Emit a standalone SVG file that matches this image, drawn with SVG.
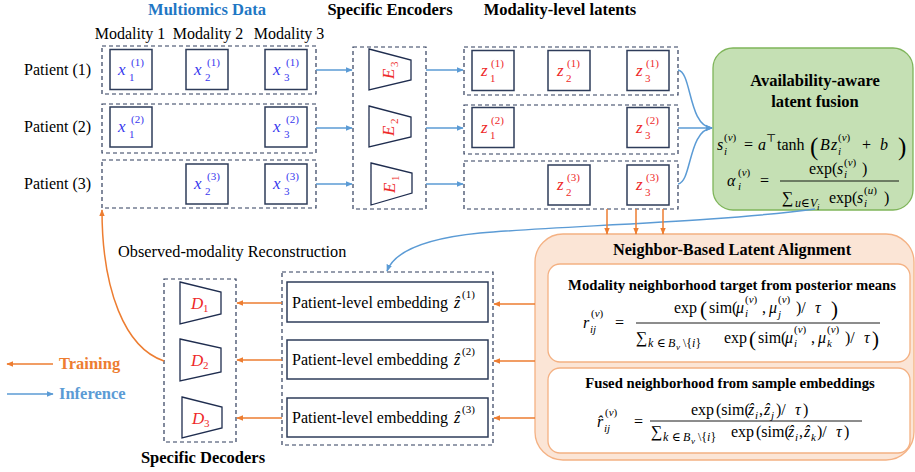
<svg xmlns="http://www.w3.org/2000/svg" width="915" height="472" viewBox="0 0 915 472" font-family="Liberation Serif, DejaVu Serif, serif">
<style>
text{fill:#000}
.t{font-size:16px}
.tb{font-size:16.5px;font-weight:bold}
.mi{font-style:italic;font-size:16px}
.mr{font-size:16px}
.sc{font-size:11px}
.sd{font-size:12px}
.ss{font-size:9px}
.i{font-style:italic}
.xb text{fill:#3838ee}
.zr text{fill:#ee2a2a}
.dash{fill:none;stroke:#2f3d5c;stroke-width:1.2;stroke-dasharray:4 3}
.sq{fill:#fff;stroke:#2e3c5a;stroke-width:1.5}
.trap{fill:#fff;stroke:#1f2d4f;stroke-width:1.3}
.bl{fill:none;stroke:#5b9bd5;stroke-width:1.5}
.or{fill:none;stroke:#ed7d31;stroke-width:1.5}
.bar{stroke:#000;stroke-width:0.9}
</style>
<defs>
<marker id="ab" viewBox="0 0 10 10" refX="9" refY="5" markerUnits="userSpaceOnUse" markerWidth="7" markerHeight="7" orient="auto"><path d="M0,1 L10,5 L0,9 z" fill="#5b9bd5"/></marker>
<marker id="ao" viewBox="0 0 10 10" refX="9" refY="5" markerUnits="userSpaceOnUse" markerWidth="7" markerHeight="7" orient="auto"><path d="M0,1 L10,5 L0,9 z" fill="#ed7d31"/></marker>
</defs>

<!-- headings -->
<text class="tb" x="207" y="15" text-anchor="middle" style="fill:#1f77c4">Multiomics Data</text>
<text class="tb" x="390" y="15" text-anchor="middle">Specific Encoders</text>
<text class="tb" x="560" y="15" text-anchor="middle">Modality-level latents</text>
<text class="t" x="130" y="39" text-anchor="middle">Modality 1</text>
<text class="t" x="208" y="39" text-anchor="middle">Modality 2</text>
<text class="t" x="289" y="39" text-anchor="middle">Modality 3</text>
<text class="t" x="24" y="75">Patient (1)</text>
<text class="t" x="24" y="132">Patient (2)</text>
<text class="t" x="24" y="189">Patient (3)</text>

<!-- data rows -->
<g id="data">
<rect class="dash" x="102" y="46" width="214" height="48"/>
<rect class="dash" x="102" y="104" width="214" height="49"/>
<rect class="dash" x="102" y="160" width="214" height="48"/>
</g>
<g id="x1_1" class="xb" transform="translate(131,69.5)"><rect class="sq" x="-21" y="-20" width="42" height="40"/><text class="mi" x="-13" y="5" style="font-size:17px">x</text><text class="sc" x="0" y="-4">(1)</text><text class="sc" x="-2" y="11">1</text></g>
<g id="x2_1" class="xb" transform="translate(207,69.5)"><rect class="sq" x="-21" y="-20" width="42" height="40"/><text class="mi" x="-13" y="5" style="font-size:17px">x</text><text class="sc" x="0" y="-4">(1)</text><text class="sc" x="-2" y="11">2</text></g>
<g id="x3_1" class="xb" transform="translate(286,69.5)"><rect class="sq" x="-21" y="-20" width="42" height="40"/><text class="mi" x="-13" y="5" style="font-size:17px">x</text><text class="sc" x="0" y="-4">(1)</text><text class="sc" x="-2" y="11">3</text></g>
<g id="x1_2" class="xb" transform="translate(131,127)"><rect class="sq" x="-21" y="-20" width="42" height="40"/><text class="mi" x="-13" y="5" style="font-size:17px">x</text><text class="sc" x="0" y="-4">(2)</text><text class="sc" x="-2" y="11">1</text></g>
<g id="x3_2" class="xb" transform="translate(286,127)"><rect class="sq" x="-21" y="-20" width="42" height="40"/><text class="mi" x="-13" y="5" style="font-size:17px">x</text><text class="sc" x="0" y="-4">(2)</text><text class="sc" x="-2" y="11">3</text></g>
<g id="x2_3" class="xb" transform="translate(207,184)"><rect class="sq" x="-21" y="-20" width="42" height="40"/><text class="mi" x="-13" y="5" style="font-size:17px">x</text><text class="sc" x="0" y="-4">(3)</text><text class="sc" x="-2" y="11">2</text></g>
<g id="x3_3" class="xb" transform="translate(286,184)"><rect class="sq" x="-21" y="-20" width="42" height="40"/><text class="mi" x="-13" y="5" style="font-size:17px">x</text><text class="sc" x="0" y="-4">(3)</text><text class="sc" x="-2" y="11">3</text></g>

<!-- encoders -->
<g id="encoders">
<rect class="dash" x="353" y="47" width="73" height="162"/>
<g id="E3"><path class="trap" d="M369,49 L411,60 L411,80 L369,90 Z"/><g class="zr" transform="translate(390,70) rotate(-90)"><text class="mi" x="-9" y="4" style="font-size:17px">E</text><text class="sc" x="3" y="8">3</text></g></g>
<g id="E2"><path class="trap" d="M369,106 L411,117 L411,137 L369,147 Z"/><g class="zr" transform="translate(390,127) rotate(-90)"><text class="mi" x="-9" y="4" style="font-size:17px">E</text><text class="sc" x="3" y="8">2</text></g></g>
<g id="E1"><path class="trap" d="M371,163 L412,173 L412,193 L371,205 Z"/><g class="zr" transform="translate(391,184) rotate(-90)"><text class="mi" x="-9" y="4" style="font-size:17px">E</text><text class="sc" x="3" y="8">1</text></g></g>
</g>

<!-- latents -->
<g id="latents">
<rect class="dash" x="464" y="47" width="214" height="48"/>
<rect class="dash" x="464" y="105" width="214" height="49"/>
<rect class="dash" x="464" y="161" width="214" height="48"/>
</g>
<g id="z1_1" class="zr" transform="translate(493,70.5)"><rect class="sq" x="-21" y="-20" width="42" height="40"/><text class="mi" x="-12" y="5" style="font-size:17px">z</text><text class="sc" x="-2" y="-4">(1)</text><text class="sc" x="-3" y="11">1</text></g>
<g id="z2_1" class="zr" transform="translate(569,70.5)"><rect class="sq" x="-21" y="-20" width="42" height="40"/><text class="mi" x="-12" y="5" style="font-size:17px">z</text><text class="sc" x="-2" y="-4">(1)</text><text class="sc" x="-3" y="11">2</text></g>
<g id="z3_1" class="zr" transform="translate(648,70.5)"><rect class="sq" x="-21" y="-20" width="42" height="40"/><text class="mi" x="-12" y="5" style="font-size:17px">z</text><text class="sc" x="-2" y="-4">(1)</text><text class="sc" x="-3" y="11">3</text></g>
<g id="z1_2" class="zr" transform="translate(493,127.5)"><rect class="sq" x="-21" y="-20" width="42" height="40"/><text class="mi" x="-12" y="5" style="font-size:17px">z</text><text class="sc" x="-2" y="-4">(2)</text><text class="sc" x="-3" y="11">1</text></g>
<g id="z3_2" class="zr" transform="translate(648,127.5)"><rect class="sq" x="-21" y="-20" width="42" height="40"/><text class="mi" x="-12" y="5" style="font-size:17px">z</text><text class="sc" x="-2" y="-4">(2)</text><text class="sc" x="-3" y="11">3</text></g>
<g id="z2_3" class="zr" transform="translate(569,185)"><rect class="sq" x="-21" y="-20" width="42" height="40"/><text class="mi" x="-12" y="5" style="font-size:17px">z</text><text class="sc" x="-2" y="-4">(3)</text><text class="sc" x="-3" y="11">2</text></g>
<g id="z3_3" class="zr" transform="translate(648,185)"><rect class="sq" x="-21" y="-20" width="42" height="40"/><text class="mi" x="-12" y="5" style="font-size:17px">z</text><text class="sc" x="-2" y="-4">(3)</text><text class="sc" x="-3" y="11">3</text></g>

<!-- fusion -->
<g id="fusion">
<rect x="713" y="48" width="200" height="162" rx="20" fill="#c5e0b4" stroke="#7fb55a" stroke-width="1.3"/>
<text class="tb" x="815" y="86" text-anchor="middle">Availability-aware</text>
<text class="tb" x="815" y="107" text-anchor="middle">latent fusion</text>
<text class="mi" x="717" y="150">s</text><text class="sc" x="724" y="141">(<tspan class="i">v</tspan>)</text><text class="sc i" x="724" y="155">i</text>
<text class="mr" x="744" y="150">=</text>
<text class="mi" x="758" y="150">a</text><text class="sc" x="766" y="142">⊤</text>
<text class="mr" x="777" y="150">tanh</text>
<text class="mr" x="810" y="155" style="font-size:25px">(</text>
<text class="mi" x="820" y="150">B</text><text class="mi" x="831" y="150">z</text><text class="sc" x="838" y="141">(<tspan class="i">v</tspan>)</text><text class="sc i" x="838" y="155">i</text>
<text class="mr" x="862" y="150">+</text><text class="mi" x="880" y="150">b</text>
<text class="mr" x="898" y="155" style="font-size:25px">)</text>
<text class="mi" x="727" y="186">α</text><text class="sc" x="738" y="176">(<tspan class="i">v</tspan>)</text><text class="sc i" x="738" y="190">i</text>
<text class="mr" x="760" y="186">=</text>
<line class="bar" x1="780" y1="181" x2="899" y2="181"/>
<text class="mr" x="809" y="174">exp(</text><text class="mi" x="837" y="174">s</text><text class="sc" x="844" y="166">(<tspan class="i">v</tspan>)</text><text class="sc i" x="844" y="178">i</text><text class="mr" x="862" y="174">)</text>
<text class="mr" x="782" y="203">∑</text><text class="sd" x="795" y="207"><tspan class="i">u</tspan>∈<tspan class="i">V</tspan></text><text class="ss i" x="817" y="210">i</text>
<text class="mr" x="829" y="203">exp(</text><text class="mi" x="857" y="203">s</text><text class="sc" x="864" y="194">(<tspan class="i">u</tspan>)</text><text class="sc i" x="864" y="207">i</text><text class="mr" x="884" y="203">)</text>
</g>

<!-- alignment -->
<g id="alignment">
<rect x="535" y="234" width="379" height="226" rx="28" fill="#fbe5d6" stroke="#f4b183" stroke-width="1.3"/>
<text class="tb" x="732" y="255" text-anchor="middle" style="font-size:16.3px">Neighbor-Based Latent Alignment</text>
<rect x="548" y="264" width="362" height="98" rx="12" fill="#fff" stroke="#f4b183" stroke-width="1.3"/>
<text class="tb" x="732" y="290" text-anchor="middle" style="font-size:14.7px">Modality neighborhood target from posterior means</text>
<text class="mi" x="583" y="328">r</text><text class="sc" x="591" y="317">(<tspan class="i">v</tspan>)</text><text class="sc i" x="590" y="333">ij</text>
<text class="mr" x="615" y="328">=</text>
<line class="bar" x1="636" y1="323" x2="880" y2="323"/>
<text class="mr" x="674" y="313">exp</text><text class="mr" x="700" y="316" style="font-size:21px">(</text><text class="mr" x="709" y="313">sim(</text>
<text class="mi" x="736" y="313">μ</text><text class="sc" x="745" y="303">(<tspan class="i">v</tspan>)</text><text class="sc i" x="745" y="317">i</text><text class="mr" x="762" y="313">,</text>
<text class="mi" x="769" y="313">μ</text><text class="sc" x="778" y="303">(<tspan class="i">v</tspan>)</text><text class="sc i" x="778" y="318">j</text>
<text class="mr" x="796" y="313">)/</text><text class="mi" x="815" y="313">τ</text><text class="mr" x="831" y="316" style="font-size:21px">)</text>
<text class="mr" x="636" y="343">∑</text><text class="sd i" x="648" y="347">k</text><text class="sd" x="657" y="347">∈</text><text class="sd i" x="668" y="347">B</text><text class="ss i" x="676" y="350">v</text><text class="sd" x="683" y="347">\{<tspan class="i">i</tspan>}</text>
<text class="mr" x="724" y="343">exp</text><text class="mr" x="749" y="346" style="font-size:21px">(</text><text class="mr" x="758" y="343">sim(</text>
<text class="mi" x="785" y="343">μ</text><text class="sc" x="794" y="333">(<tspan class="i">v</tspan>)</text><text class="sc i" x="794" y="347">i</text><text class="mr" x="811" y="343">,</text>
<text class="mi" x="818" y="343">μ</text><text class="sc" x="827" y="333">(<tspan class="i">v</tspan>)</text><text class="sc i" x="827" y="347">k</text>
<text class="mr" x="845" y="343">)/</text><text class="mi" x="864" y="343">τ</text><text class="mr" x="872" y="346" style="font-size:21px">)</text>
<rect x="548" y="368" width="362" height="85" rx="12" fill="#fff" stroke="#f4b183" stroke-width="1.3"/>
<text class="tb" x="730" y="388" text-anchor="middle" style="font-size:14.7px">Fused neighborhood from sample embeddings</text>
<text class="mi" x="597" y="427">r̂</text><text class="sc" x="605" y="416">(<tspan class="i">v</tspan>)</text><text class="sc i" x="604" y="432">ij</text>
<text class="mr" x="634" y="427">=</text>
<line class="bar" x1="650" y1="421" x2="862" y2="421"/>
<text class="mr" x="691" y="415">exp</text><text class="mr" x="716" y="415">(sim(</text>
<text class="mi" x="748" y="415">ẑ</text><text class="sc i" x="755" y="419">i</text><text class="mr" x="759" y="415">,</text>
<text class="mi" x="764" y="415">ẑ</text><text class="sc i" x="771" y="419">j</text><text class="mr" x="776" y="415">)/</text><text class="mi" x="795" y="415">τ</text><text class="mr" x="803" y="415">)</text>
<text class="mr" x="651" y="437">∑</text><text class="sd i" x="663" y="441">k</text><text class="sd" x="672" y="441">∈</text><text class="sd i" x="683" y="441">B</text><text class="ss i" x="691" y="444">v</text><text class="sd" x="698" y="441">\{<tspan class="i">i</tspan>}</text>
<text class="mr" x="731" y="437">exp</text><text class="mr" x="756" y="437">(sim(</text>
<text class="mi" x="788" y="437">ẑ</text><text class="sc i" x="795" y="441">i</text><text class="mr" x="799" y="437">,</text>
<text class="mi" x="804" y="437">ẑ</text><text class="sc i" x="811" y="441">k</text><text class="mr" x="817" y="437">)/</text><text class="mi" x="836" y="437">τ</text><text class="mr" x="844" y="437">)</text>
</g>

<!-- embeddings -->
<g id="embeddings">
<rect class="dash" x="282" y="272" width="211" height="173"/>
</g>
<g id="emb1"><rect class="sq" x="287" y="282" width="201" height="40"/><text class="t" x="292" y="308">Patient-level embedding</text><text class="mi" x="454" y="308">ẑ</text><text class="sc" x="462" y="298">(1)</text></g>
<g id="emb2"><rect class="sq" x="287" y="340" width="201" height="39"/><text class="t" x="292" y="365">Patient-level embedding</text><text class="mi" x="454" y="365">ẑ</text><text class="sc" x="462" y="355">(2)</text></g>
<g id="emb3"><rect class="sq" x="287" y="398" width="201" height="39"/><text class="t" x="292" y="423">Patient-level embedding</text><text class="mi" x="454" y="423">ẑ</text><text class="sc" x="462" y="413">(3)</text></g>

<!-- decoders -->
<g id="decoders">
<rect class="dash" x="164" y="279" width="72" height="163"/>
<text class="tb" x="203" y="463" text-anchor="middle">Specific Decoders</text>
</g>
<g id="D1" class="zr"><path class="trap" d="M180,282 L221,292 L221,314 L180,324 Z"/><text class="mi" x="191" y="309" style="font-size:17px">D</text><text class="sc" x="203" y="312">1</text></g>
<g id="D2" class="zr"><path class="trap" d="M180,339 L221,348 L221,372 L180,381 Z"/><text class="mi" x="191" y="366" style="font-size:17px">D</text><text class="sc" x="203" y="369">2</text></g>
<g id="D3" class="zr"><path class="trap" d="M182,397 L222,407 L222,428 L182,438 Z"/><text class="mi" x="192" y="424" style="font-size:17px">D</text><text class="sc" x="204" y="427">3</text></g>

<text class="t" x="118" y="257" style="font-size:16.3px">Observed-modality Reconstruction</text>

<!-- legend -->
<g id="legend">
<line class="or" x1="53" y1="364" x2="7" y2="364" marker-end="url(#ao)"/>
<text class="tb" x="59" y="369" style="fill:#ed7d31">Training</text>
<line class="bl" x1="7" y1="394" x2="53" y2="394" marker-end="url(#ab)"/>
<text class="tb" x="59" y="399" style="fill:#5b9bd5">Inference</text>
</g>

<!-- connectors -->
<g id="connectors">
<line class="bl" x1="316" y1="70" x2="352" y2="70" marker-end="url(#ab)"/>
<line class="bl" x1="316" y1="128" x2="352" y2="128" marker-end="url(#ab)"/>
<line class="bl" x1="316" y1="184" x2="352" y2="184" marker-end="url(#ab)"/>
<line class="bl" x1="426" y1="70" x2="463" y2="70" marker-end="url(#ab)"/>
<line class="bl" x1="426" y1="128" x2="463" y2="128" marker-end="url(#ab)"/>
<line class="bl" x1="426" y1="184" x2="463" y2="184" marker-end="url(#ab)"/>
<path class="bl" d="M678,70 C692,72 688,126 712,128" marker-end="url(#ab)"/>
<path class="bl" d="M678,128 L712,128" marker-end="url(#ab)"/>
<path class="bl" d="M678,184 C692,182 688,130 712,128" marker-end="url(#ab)"/>
<path class="bl" d="M815,209 C720,222 560,226 480,233 C430,238 395,250 387,271" marker-end="url(#ab)"/>
<line class="or" x1="607" y1="209" x2="607" y2="234" marker-end="url(#ao)"/>
<line class="or" x1="636" y1="209" x2="636" y2="234" marker-end="url(#ao)"/>
<line class="or" x1="663" y1="209" x2="663" y2="234" marker-end="url(#ao)"/>
<line class="or" x1="535" y1="304" x2="494" y2="304" marker-end="url(#ao)"/>
<line class="or" x1="535" y1="361" x2="494" y2="361" marker-end="url(#ao)"/>
<line class="or" x1="535" y1="418" x2="494" y2="418" marker-end="url(#ao)"/>
<line class="or" x1="282" y1="303" x2="237" y2="303" marker-end="url(#ao)"/>
<line class="or" x1="282" y1="360" x2="237" y2="360" marker-end="url(#ao)"/>
<line class="or" x1="282" y1="418" x2="237" y2="418" marker-end="url(#ao)"/>
<path class="or" d="M164,361 C125,348 102,290 102,210" marker-end="url(#ao)"/>
</g>
</svg>
